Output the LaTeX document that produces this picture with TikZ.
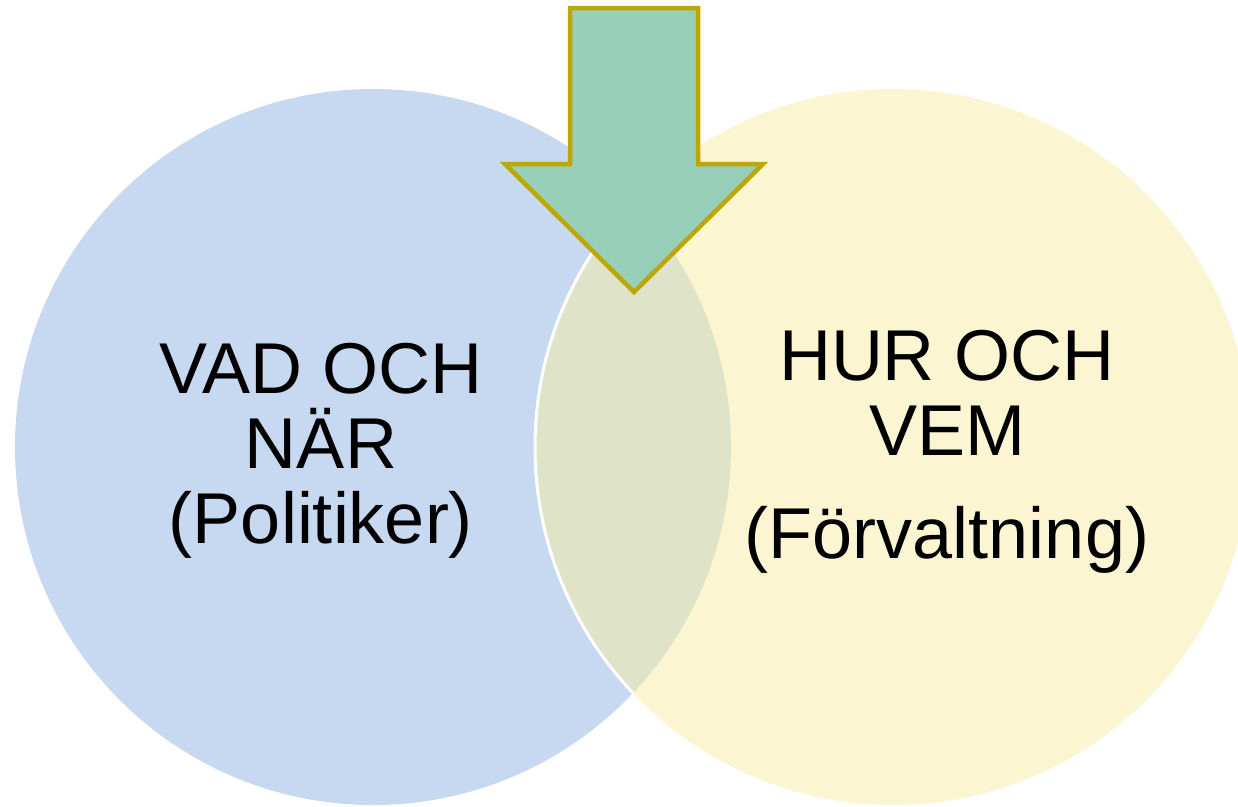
\documentclass[tikz,border=0pt]{standalone}
\usepackage{fontspec}
\setmainfont{Liberation Sans}
\definecolor{lblue}{HTML}{C6D9F0}
\definecolor{lyellow}{HTML}{FBF5D2}
\definecolor{overlapc}{HTML}{DFE3C8}
\definecolor{arrowfill}{HTML}{97CFB8}
\definecolor{arrowline}{HTML}{BCA608}
\begin{document}
\begin{tikzpicture}[x=1pt,y=-1pt,
  setcircle/.style={circle, minimum size=716pt, inner sep=0pt, draw=none},
  biglabel/.style={font=\fontsize{72}{75}\selectfont, align=center, text=black, inner sep=0pt}]
\useasboundingbox (0,0) rectangle (1238,806);
\clip (0,0) rectangle (1238,806);
% circles
\node[setcircle, fill=lblue] (left) at (373,447) {};
\node[setcircle, fill=lyellow] (right) at (893,447) {};
% overlap
\begin{scope}
  \clip (373,447) circle (358pt);
  \fill[overlapc] (893,447) circle (358pt);
  \draw[white, line width=3pt] (893,447) circle (358pt);
\end{scope}
% arrow
\draw[arrowline, fill=arrowfill, line width=4.5pt, line join=miter]
  (570,8) -- (698,8) -- (698,164) -- (763,164) -- (634,292) -- (505,164) -- (570,164) -- cycle;
% labels
\node[biglabel] (lefttext) at (321,451) {VAD OCH\\NÄR\\(Politiker)};
\node[biglabel] (righttext) at (947,452) {HUR OCH\\VEM\\[28pt](Förvaltning)};
\end{tikzpicture}
\end{document}
